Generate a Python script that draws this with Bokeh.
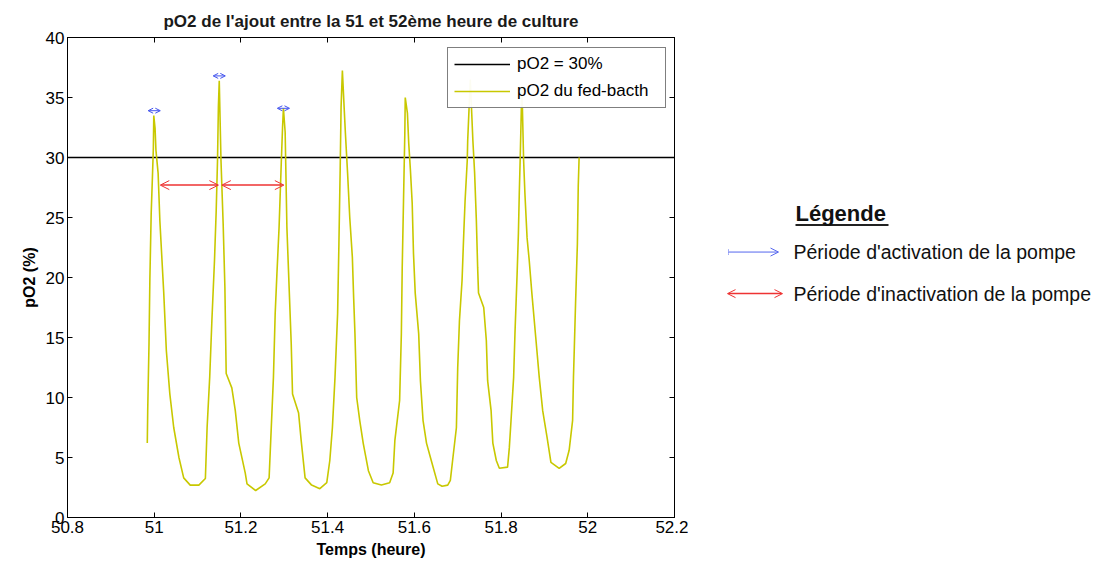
from bokeh.plotting import figure
from bokeh.models import (ColumnDataSource, Arrow, OpenHead, TeeHead, Label, LinearAxis,
                          FixedTicker, CustomJSTickFormatter, Range1d, Legend, LegendItem)
from bokeh.layouts import row
from bokeh.embed import file_html
from bokeh.resources import INLINE

# ---------------- data ----------------
time_h = [50.984, 50.985, 50.988, 50.990, 50.993, 50.996, 50.998, 50.999, 51.002, 51.004,
          51.009, 51.013, 51.018, 51.022, 51.028, 51.036, 51.045, 51.057, 51.068, 51.083,
          51.103, 51.118, 51.122, 51.128, 51.133, 51.139, 51.143, 51.146, 51.148, 51.150,
          51.154, 51.159, 51.163, 51.166, 51.179, 51.187, 51.195, 51.210, 51.214, 51.234,
          51.256, 51.265, 51.270, 51.275, 51.279, 51.283, 51.288, 51.293, 51.296, 51.298,
          51.302, 51.306, 51.310, 51.316, 51.319, 51.333, 51.339, 51.348, 51.363, 51.382,
          51.398, 51.405, 51.411, 51.417, 51.423, 51.426, 51.429, 51.431, 51.434, 51.438,
          51.441, 51.446, 51.451, 51.457, 51.460, 51.463, 51.467, 51.474, 51.482, 51.494,
          51.505, 51.524, 51.543, 51.551, 51.555, 51.566, 51.570, 51.572, 51.575, 51.578,
          51.579, 51.584, 51.587, 51.591, 51.595, 51.598, 51.602, 51.610, 51.614, 51.620,
          51.628, 51.639, 51.654, 51.664, 51.677, 51.683, 51.689, 51.697, 51.700, 51.704,
          51.710, 51.714, 51.717, 51.722, 51.723, 51.729, 51.735, 51.739, 51.743, 51.746,
          51.748, 51.760, 51.766, 51.769, 51.777, 51.781, 51.789, 51.796, 51.815, 51.819,
          51.823, 51.829, 51.832, 51.837, 51.840, 51.842, 51.844, 51.848, 51.852, 51.855,
          51.860, 51.865, 51.871, 51.880, 51.888, 51.896, 51.906, 51.915, 51.934, 51.949,
          51.957, 51.965, 51.967, 51.969, 51.972, 51.976, 51.978, 51.980]
po2 = [6.2, 8.9, 14.5, 19.9, 25.3, 28.5, 30.75, 33.5, 32.4, 30.6,
       28.7, 24.75, 21.4, 18.7, 13.9, 10.3, 7.5, 5.0, 3.3, 2.7,
       2.7, 3.25, 7.5, 11.7, 16.4, 21.4, 25.6, 29.75, 34.2, 36.4,
       29.75, 24.5, 19.2, 12.0, 10.8, 8.9, 6.2, 3.7, 2.8, 2.25,
       2.8, 3.3, 7.5, 11.7, 17.0, 20.3, 24.2, 29.5, 32.5, 34.1,
       32.1, 24.2, 20.3, 14.5, 10.3, 8.7, 6.4, 3.3, 2.7, 2.4,
       2.9, 4.75, 7.5, 11.7, 17.0, 22.8, 29.2, 34.2, 37.25, 34.2,
       32.0, 28.7, 25.0, 21.7, 18.3, 15.3, 10.0, 8.1, 6.2, 3.9,
       2.9, 2.7, 2.9, 3.7, 6.4, 9.75, 15.3, 20.8, 26.4, 32.0,
       35.0, 33.7, 31.2, 28.9, 26.2, 22.0, 18.7, 15.3, 11.4, 8.1,
       6.2, 4.75, 2.8, 2.6, 2.7, 3.1, 5.0, 7.5, 12.5, 16.4,
       19.75, 23.7, 26.4, 29.75, 31.4, 36.5, 31.4, 28.7, 24.75, 20.8,
       18.7, 17.5, 14.75, 11.4, 8.9, 6.2, 4.75, 4.1, 4.2, 5.8,
       8.1, 11.7, 15.3, 20.3, 23.7, 27.0, 29.75, 36.0, 29.75, 27.0,
       23.3, 21.4, 18.7, 15.0, 11.7, 8.9, 6.7, 4.6, 4.1, 4.5,
       5.6, 8.1, 11.7, 14.2, 18.1, 22.8, 27.6, 30.0]

threshold_x = [50.8, 52.2]
threshold_y = [30, 30]

x_ticks = [50.8, 51.0, 51.2, 51.4, 51.6, 51.8, 52.0, 52.2]
y_ticks = [0, 5, 10, 15, 20, 25, 30, 35, 40]

# pump activation (blue) and inactivation (red) periods
act_start = [50.986, 51.136, 51.284]
act_end = [51.014, 51.164, 51.312]
act_y = [33.9, 36.8, 34.1]
inact_start = [51.014, 51.156]
inact_end = [51.148, 51.299]
inact_y = [27.7, 27.7]

FONT = "Liberation Sans"
CURVE = "#c8c800"

p = figure(width=688, height=566, output_backend="svg", toolbar_location=None,
           x_range=Range1d(50.8, 52.2), y_range=Range1d(0, 40),
           min_border_left=67, min_border_right=14, min_border_top=37, min_border_bottom=49,
           title="pO2 de l'ajout entre la 51 et 52ème heure de culture")
p.title.align = "center"
p.title.text_font = FONT
p.title.text_font_size = "17px"
p.title.text_font_style = "bold"
p.title.text_color = "#1a1a1a"
p.title.standoff = 13
p.grid.visible = False
p.outline_line_color = "black"
p.outline_line_width = 1
p.background_fill_color = "white"

fmt = CustomJSTickFormatter(code="return String(Math.round(tick*10)/10);")
for ax in p.xaxis:
    ax.ticker = FixedTicker(ticks=x_ticks)
    ax.formatter = fmt
    ax.axis_label = "Temps (heure)"
for ax in p.yaxis:
    ax.ticker = FixedTicker(ticks=y_ticks)
    ax.axis_label = "pO2 (%)"
for ax in p.xaxis + p.yaxis:
    ax.major_tick_in = 5
    ax.major_tick_out = 0
    ax.minor_tick_line_color = None
    ax.axis_line_color = "black"
    ax.major_tick_line_color = "black"
    ax.major_label_text_font = FONT
    ax.major_label_text_font_size = "17px"
    ax.major_label_text_color = "black"
    ax.major_label_standoff = 3
    ax.axis_label_text_font = FONT
    ax.axis_label_text_font_size = "16px"
    ax.axis_label_text_font_style = "bold"
    ax.axis_label_text_color = "black"
    ax.axis_label_standoff = 5

top_ax = LinearAxis(ticker=FixedTicker(ticks=x_ticks), major_label_text_font_size="0px",
                    major_tick_in=5, major_tick_out=0, minor_tick_line_color=None)
right_ax = LinearAxis(ticker=FixedTicker(ticks=y_ticks), major_label_text_font_size="0px",
                      major_tick_in=5, major_tick_out=0, minor_tick_line_color=None)
p.add_layout(top_ax, "above")
p.add_layout(right_ax, "right")

r_thr = p.line(threshold_x, threshold_y, line_color="black", line_width=1.5)
r_curve = p.line(time_h, po2, line_color=CURVE, line_width=1.6)

legend = Legend(items=[LegendItem(label="pO2 = 30%", renderers=[r_thr]),
                       LegendItem(label="pO2 du fed-bacth", renderers=[r_curve])],
                location=(380, 409))
legend.label_text_font = FONT
legend.label_text_font_size = "17px"
legend.label_text_color = "black"
legend.border_line_color = "black"
legend.border_line_width = 1
legend.glyph_width = 56
legend.glyph_height = 20
legend.label_height = 20
legend.label_width = 142
legend.label_standoff = 7
legend.spacing = 7
legend.padding = 6
legend.margin = 0
p.add_layout(legend)

act_src = ColumnDataSource(dict(x0=act_start, x1=act_end, y=act_y))
p.add_layout(Arrow(x_start="x0", y_start="y", x_end="x1", y_end="y", source=act_src,
                   line_color="#4455ee", line_width=1,
                   start=OpenHead(size=5, line_color="#4455ee", line_width=1),
                   end=OpenHead(size=5, line_color="#4455ee", line_width=1)))
inact_src = ColumnDataSource(dict(x0=inact_start, x1=inact_end, y=inact_y))
p.add_layout(Arrow(x_start="x0", y_start="y", x_end="x1", y_end="y", source=inact_src,
                   line_color="#ee3333", line_width=1.5,
                   start=OpenHead(size=9, line_color="#ee3333", line_width=1),
                   end=OpenHead(size=9, line_color="#ee3333", line_width=1)))

# ------------- side key panel -------------
k = figure(width=405, height=566, output_backend="svg", toolbar_location=None,
           x_range=Range1d(0, 405), y_range=Range1d(566, 0),
           x_axis_type=None, y_axis_type=None, min_border=0)
k.grid.visible = False
k.outline_line_color = None

k.add_layout(Label(x=107, y=208, text="Légende", text_font=FONT, text_font_size="22px",
                   text_font_style="bold", text_color="#111111", text_baseline="middle"))
k.segment(x0=[107], y0=[221], x1=[200], y1=[221], line_color="#222222", line_width=2)

k.add_layout(Arrow(x_start=40, y_start=253, x_end=90, y_end=253, line_color="#5566ee",
                   line_width=1, start=TeeHead(size=5, line_color="#5566ee", line_width=1,
                                               line_dash="1 1"),
                   end=OpenHead(size=8, line_color="#5566ee", line_width=1)))
k.add_layout(Label(x=105, y=253, text="Période d'activation de la pompe", text_font=FONT,
                   text_font_size="19.5px", text_color="#111111", text_baseline="middle"))
k.add_layout(Arrow(x_start=39, y_start=302, x_end=94, y_end=302, line_color="#ee3333",
                   line_width=1.5, start=OpenHead(size=8, line_color="#ee3333", line_width=1),
                   end=OpenHead(size=8, line_color="#ee3333", line_width=1)))
k.add_layout(Label(x=105, y=302, text="Période d'inactivation de la pompe", text_font=FONT,
                   text_font_size="19.5px", text_color="#111111", text_baseline="middle"))

layout = row(p, k)
open("out.html", "w").write(file_html(layout, INLINE))
